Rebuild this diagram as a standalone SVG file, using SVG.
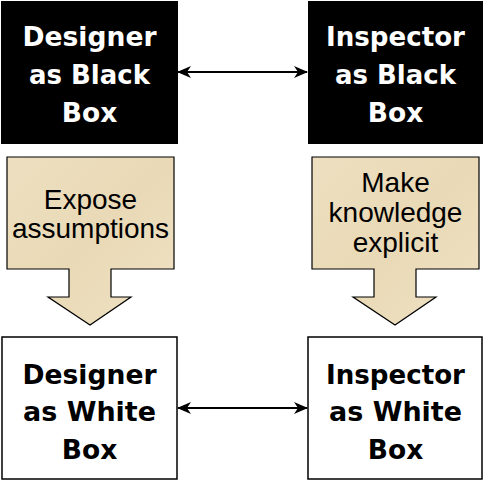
<svg xmlns="http://www.w3.org/2000/svg" width="485" height="482" viewBox="0 0 485 482">
<style>
.bold{font-family:"DejaVu Sans","Liberation Sans",sans-serif;font-weight:bold;font-size:26.5px;text-anchor:middle}
.reg{font-family:"Liberation Sans",Arial,sans-serif;font-size:28px;text-anchor:middle;fill:#000}
.blk{fill:#000}
.wht{fill:#fff;stroke:#000;stroke-width:1.5}
.call{fill:url(#parch);stroke:#000;stroke-width:1.2}
.conn{stroke:#000;stroke-width:2;fill:none;marker-start:url(#ah);marker-end:url(#ah)}
</style>
<defs>
<linearGradient id="parch" x1="0" y1="0" x2="1" y2="1">
<stop offset="0" stop-color="#eddfc0"/>
<stop offset="0.5" stop-color="#e9d9b6"/>
<stop offset="1" stop-color="#efe2c4"/>
</linearGradient>
<marker id="ah" viewBox="0 0 14 12" refX="13" refY="6" markerWidth="14" markerHeight="12" markerUnits="userSpaceOnUse" orient="auto-start-reverse">
<path d="M0,0 L14,6 L0,12 L4,6 Z" fill="#000"/>
</marker>
</defs>
<g id="designer-black">
<rect class="blk" x="1" y="1" width="177" height="143"/>
<text class="bold" fill="#fff" x="89.5" y="46" textLength="134" lengthAdjust="spacingAndGlyphs">Designer</text>
<text class="bold" fill="#fff" x="89.5" y="84" textLength="121" lengthAdjust="spacingAndGlyphs">as Black</text>
<text class="bold" fill="#fff" x="89.5" y="122">Box</text>
</g>
<g id="inspector-black">
<rect class="blk" x="308" y="1" width="175" height="143"/>
<text class="bold" fill="#fff" x="395.5" y="46" textLength="139" lengthAdjust="spacingAndGlyphs">Inspector</text>
<text class="bold" fill="#fff" x="395.5" y="84" textLength="121" lengthAdjust="spacingAndGlyphs">as Black</text>
<text class="bold" fill="#fff" x="395.5" y="122">Box</text>
</g>
<g id="expose">
<path class="call" d="M7,157 H174 V269 H111 V297 H131 L90,325 L48,297 H69 V269 H7 Z"/>
<text class="reg" x="90.5" y="209">Expose</text>
<text class="reg" x="90.5" y="238">assumptions</text>
</g>
<g id="make-explicit">
<path class="call" d="M312,157 H479 V269 H416 V297 H436 L395,325 L353,297 H374 V269 H312 Z"/>
<text class="reg" x="395.5" y="192">Make</text>
<text class="reg" x="395.5" y="222">knowledge</text>
<text class="reg" x="395.5" y="252">explicit</text>
</g>
<g id="designer-white">
<rect class="wht" x="2" y="337" width="175" height="142"/>
<text class="bold" fill="#000" x="89.5" y="384" textLength="134" lengthAdjust="spacingAndGlyphs">Designer</text>
<text class="bold" fill="#000" x="89.5" y="421" textLength="133" lengthAdjust="spacingAndGlyphs">as White</text>
<text class="bold" fill="#000" x="89.5" y="459">Box</text>
</g>
<g id="inspector-white">
<rect class="wht" x="308" y="337" width="174" height="142"/>
<text class="bold" fill="#000" x="395.5" y="384" textLength="139" lengthAdjust="spacingAndGlyphs">Inspector</text>
<text class="bold" fill="#000" x="395.5" y="421" textLength="133" lengthAdjust="spacingAndGlyphs">as White</text>
<text class="bold" fill="#000" x="395.5" y="459">Box</text>
</g>
<g id="connectors">
<line class="conn" x1="178" y1="72" x2="307" y2="72"/>
<line class="conn" x1="178" y1="408" x2="307" y2="408"/>
</g>
</svg>
